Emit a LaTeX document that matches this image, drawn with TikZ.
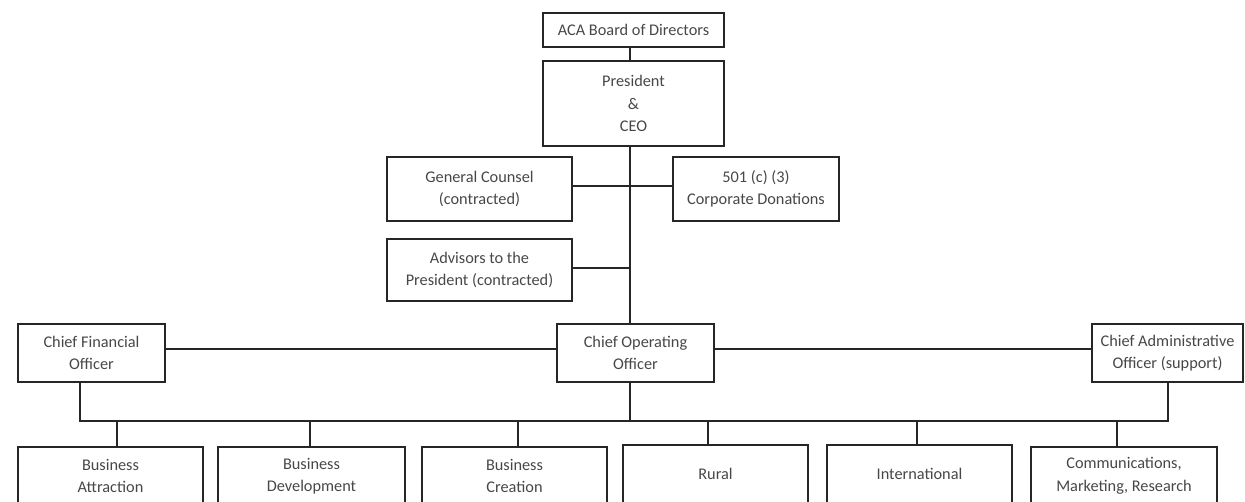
\documentclass[tikz,border=0pt]{standalone}
\usepackage{fontspec}
\setmainfont{Carlito}
\begin{document}
\begin{tikzpicture}[x=1pt,y=-1pt,
  box/.style={draw=black!85, line width=1.8pt, rectangle, align=center, inner sep=0pt,
    text=black!72, font=\fontsize{16.3}{22.5}\selectfont},
  conn/.style={draw=black!85, line width=1.8pt}]
\useasboundingbox (0,0) rectangle (1245,502);
\clip (0,0) rectangle (1245,502);
% top
\node[box, minimum width=181, minimum height=34] (aca) at (633.5,30) {ACA Board of Directors};
\node[box, minimum width=181, minimum height=85] (pres) at (633.5,103.5) {President\\\&\\CEO};
\node[box, minimum width=185, minimum height=64] (gc) at (479.5,189) {General Counsel\\(contracted)};
\node[box, minimum width=166, minimum height=64] (don) at (756,189) {501 (c) (3)\\Corporate Donations};
\node[box, minimum width=185, minimum height=62] (adv) at (479.5,270) {Advisors to the\\President (contracted)};
% officers
\node[box, minimum width=147, minimum height=58] (cfo) at (91.5,353) {Chief Financial\\Officer};
\node[box, minimum width=157, minimum height=58] (coo) at (635.5,353) {Chief Operating\\Officer};
\node[box, minimum width=151, minimum height=58] (cao) at (1167.5,353) {Chief Administrative\\Officer (support)};
% departments
\node[box, minimum width=185, minimum height=58] (ba) at (110.5,476) {Business\\Attraction};
\node[box, minimum width=187, minimum height=58] (bd) at (311.5,476) {Business\\Development};
\node[box, minimum width=185, minimum height=58] (bc) at (514.5,476) {Business\\Creation};
\node[box, minimum width=185, minimum height=58] (ru) at (715.5,474) {Rural};
\node[box, minimum width=185, minimum height=58] (in) at (919.5,474) {International};
\node[box, minimum width=186, minimum height=58] (cm) at (1124,476) {Communications,\\Marketing, Research};
% coordinates
\coordinate (sp) at (630,0);
\coordinate (jL) at (80,421);
\coordinate (jR) at (1168,421);
% connectors
\draw[conn] (aca.south -| sp) -- (pres.north -| sp);
\draw[conn] (pres.south -| sp) -- (coo.north -| sp);
\draw[conn] ([yshift=3]gc.east) -- ([yshift=3]don.west);
\draw[conn] ([yshift=2]adv.east) -- ([yshift=2]adv.east -| sp);
\draw[conn] ([yshift=4]cfo.east) -- ([yshift=4]coo.west);
\draw[conn] ([yshift=4]coo.east) -- ([yshift=4]cao.west);
\draw[conn] (cfo.south -| jL) -- (jL) -- (jR) -- (cao.south -| jR);
\draw[conn] (coo.south -| sp) -- (sp |- jL);
\draw[conn] ([xshift=6.5]ba.north) -- ([xshift=6.5]ba.north |- jL);
\draw[conn] ([xshift=-1.5]bd.north) -- ([xshift=-1.5]bd.north |- jL);
\draw[conn] ([xshift=3.5]bc.north) -- ([xshift=3.5]bc.north |- jL);
\draw[conn] ([xshift=-7.5]ru.north) -- ([xshift=-7.5]ru.north |- jL);
\draw[conn] ([xshift=-2.5]in.north) -- ([xshift=-2.5]in.north |- jL);
\draw[conn] ([xshift=-7]cm.north) -- ([xshift=-7]cm.north |- jL);
\end{tikzpicture}
\end{document}
